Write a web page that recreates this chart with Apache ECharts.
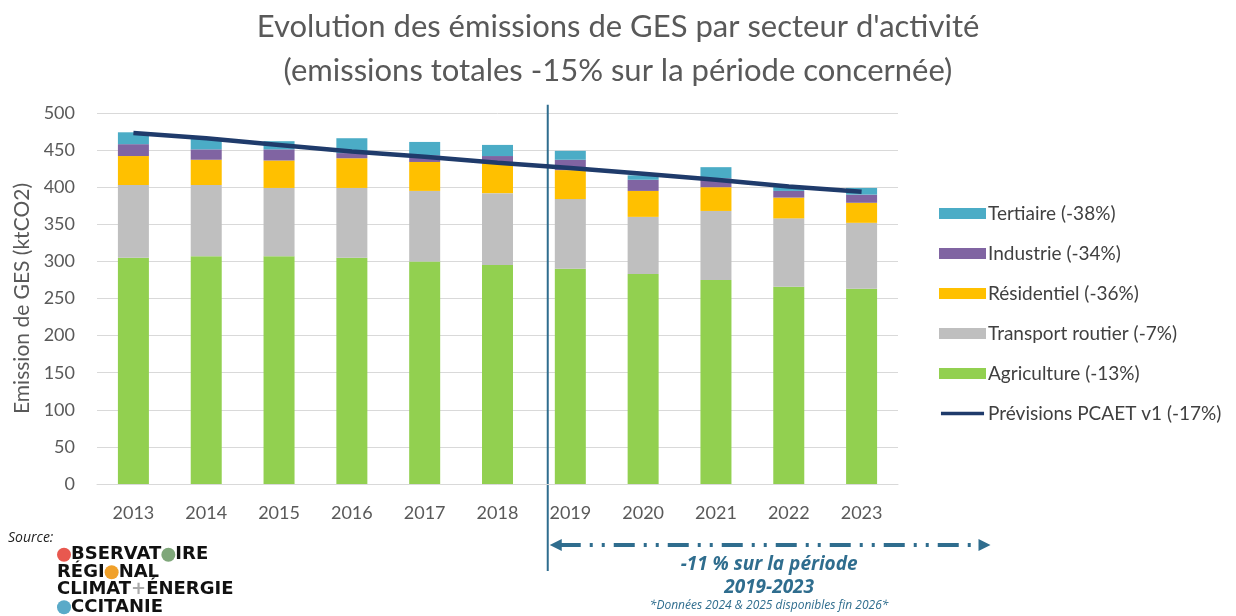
<!DOCTYPE html>
<html><head><meta charset="utf-8">
<script src="https://cdn.jsdelivr.net/npm/echarts@6/dist/echarts.min.js"></script>
<style>html,body{margin:0;padding:0;background:#fff}#c{width:1236px;height:616px}</style>
</head><body><div id="c"></div>
<script>
const years = ['2013','2014','2015','2016','2017','2018','2019','2020','2021','2022','2023'];
const agriculture = [305, 307, 307, 305, 300, 295, 290, 283, 275, 266, 263];
const transport   = [98, 96, 92, 94, 95, 97, 94, 77, 93, 92, 89];
const residentiel = [39, 34, 37, 40, 39, 40, 39, 35, 32, 28, 27];
const industrie   = [16, 14, 15, 7, 9, 10, 14, 15, 12, 9, 11];
const tertiaire   = [16, 15, 11, 20, 18, 15, 12, 6, 15, 6, 9];
const previsions  = [473, 466, 457, 448, 441, 433, 426, 418, 410, 401, 394];
const yTicks = {min: 0, max: 500, interval: 50};
const dividerPos = 5.69;   // between 2018 and 2019 on the category scale
const arrowEndPos = 11.77;
const titleLines = ["Evolution des émissions de GES par secteur d'activité", "(emissions totales -15% sur la période concernée)"];
const names = ['Tertiaire (-38%)','Industrie (-34%)','Résidentiel (-36%)','Transport routier (-7%)','Agriculture (-13%)','Prévisions PCAET v1 (-17%)'];
const colors = {ter:'#4bacc6', ind:'#8064a2', res:'#ffc000', tra:'#bfbfbf', agr:'#92d050', line:'#1f3b6b'};
const annoColor = '#2f6d8e';

const chart = echarts.init(document.getElementById('c'));
const FONT = 'Lato';
function bar(name, data, color){
  return {name, type:'bar', stack:'s', data, barWidth:31, itemStyle:{color}, emphasis:{disabled:true}};
}
const lineIcon = 'path://M0,0 M0,4 L47,4 L47,8 L0,8 Z M47,12';
chart.setOption({
  animation:false,
  textStyle:{fontFamily:FONT},
  title:{text: titleLines.join('\n'), left:'center', top:0,
    textStyle:{fontFamily:FONT, fontSize:31, fontWeight:'normal', color:'#595959', lineHeight:44}},
  grid:{left:97, right:338, top:113, bottom:132, containLabel:false},
  legend:{orient:'vertical', left:934, top:199, itemWidth:47, itemHeight:11, itemGap:21,
    textStyle:{fontSize:19, color:'#404040', fontFamily:FONT, padding:[0,0,0,-3]},
    data:[
      {name:names[0], icon:'rect'},{name:names[1], icon:'rect'},{name:names[2], icon:'rect'},
      {name:names[3], icon:'rect'},{name:names[4], icon:'rect'},{name:names[5], icon:lineIcon}
    ]},
  xAxis:[
    {type:'category', data:years, axisTick:{show:false},
     axisLine:{lineStyle:{color:'#d9d9d9', width:1}},
     axisLabel:{fontSize:18, color:'#595959', margin:20}},
    {type:'value', min:-0.5, max:10.5, show:false}
  ],
  yAxis:{type:'value', min:yTicks.min, max:yTicks.max, interval:yTicks.interval,
    name:'Emission de GES (ktCO2)', nameLocation:'middle', nameGap:62, nameRotate:90,
    nameTextStyle:{fontSize:21, color:'#595959'},
    axisLabel:{fontSize:18, color:'#595959', margin:22},
    axisLine:{show:false}, axisTick:{show:false},
    splitLine:{lineStyle:{color:'#d9d9d9', width:1}}},
  series:[
    bar(names[4], agriculture, colors.agr),
    bar(names[3], transport, colors.tra),
    bar(names[2], residentiel, colors.res),
    bar(names[1], industrie, colors.ind),
    bar(names[0], tertiaire, colors.ter),
    {name:names[5], type:'line', data:previsions, symbol:'none', z:5,
     lineStyle:{color:colors.line, width:4.5}, itemStyle:{color:colors.line}}
  ]
});

// annotations positioned through the axes
const xDiv = chart.convertToPixel({xAxisIndex:1}, dividerPos);
const yTop = chart.convertToPixel({yAxisIndex:0}, 511);
const xEnd = chart.convertToPixel({xAxisIndex:1}, arrowEndPos);
const yArrow = 545;
const cx = (xDiv + xEnd) / 2;
const dot = c => ({width:14, height:14, borderRadius:7, backgroundColor:c, lineHeight:17.5});
chart.setOption({graphic:[
  {type:'line', shape:{x1:xDiv, y1:yTop, x2:xDiv, y2:571}, style:{stroke:annoColor, lineWidth:2}},
  {type:'line', shape:{x1:xDiv+12, y1:yArrow, x2:xEnd-10, y2:yArrow},
   style:{stroke:annoColor, lineWidth:4, lineDash:[21,9,3,9,3,9]}},
  {type:'polygon', shape:{points:[[xDiv+2,yArrow],[xDiv+14,yArrow-6],[xDiv+14,yArrow+6]]}, style:{fill:annoColor}},
  {type:'polygon', shape:{points:[[xEnd,yArrow],[xEnd-12,yArrow-6],[xEnd-12,yArrow+6]]}, style:{fill:annoColor}},
  {type:'text', x:cx, y:565, style:{text:'-11 % sur la période', fill:annoColor, font:'italic bold 19px "Open Sans"', align:'center', verticalAlign:'middle'}},
  {type:'text', x:cx, y:588, style:{text:'2019-2023', fill:annoColor, font:'italic bold 19px "Open Sans"', align:'center', verticalAlign:'middle'}},
  {type:'text', x:cx, y:606, style:{text:'*Données 2024 & 2025 disponibles fin 2026*', fill:annoColor, font:'italic 12px "Open Sans"', align:'center', verticalAlign:'middle'}},
  {type:'text', x:8, y:538, style:{text:'Source:', fill:'#222', font:'italic 14px "Open Sans"', verticalAlign:'middle'}},
  {type:'text', x:57, y:581, style:{
    text:'{r| }{b|BSERVAT}{g| }{b|IRE}\n{b|RÉGI}{o| }{b|NAL}\n{b|CLIMAT}{p|+}{b|ÉNERGIE}\n{c| }{b|CCITANIE}',
    verticalAlign:'middle', lineHeight:17.5,
    rich:{
      b:{font:'900 18px "DejaVu Sans"', fill:'#111111', lineHeight:17.5},
      r:dot('#e8584f'), g:dot('#7fa77a'), o:dot('#f0a02a'), c:dot('#5aaac8'),
      p:{font:'900 18px "DejaVu Sans"', fill:'#aaaaaa', lineHeight:17.5}
    }}}
]});
</script></body></html>
